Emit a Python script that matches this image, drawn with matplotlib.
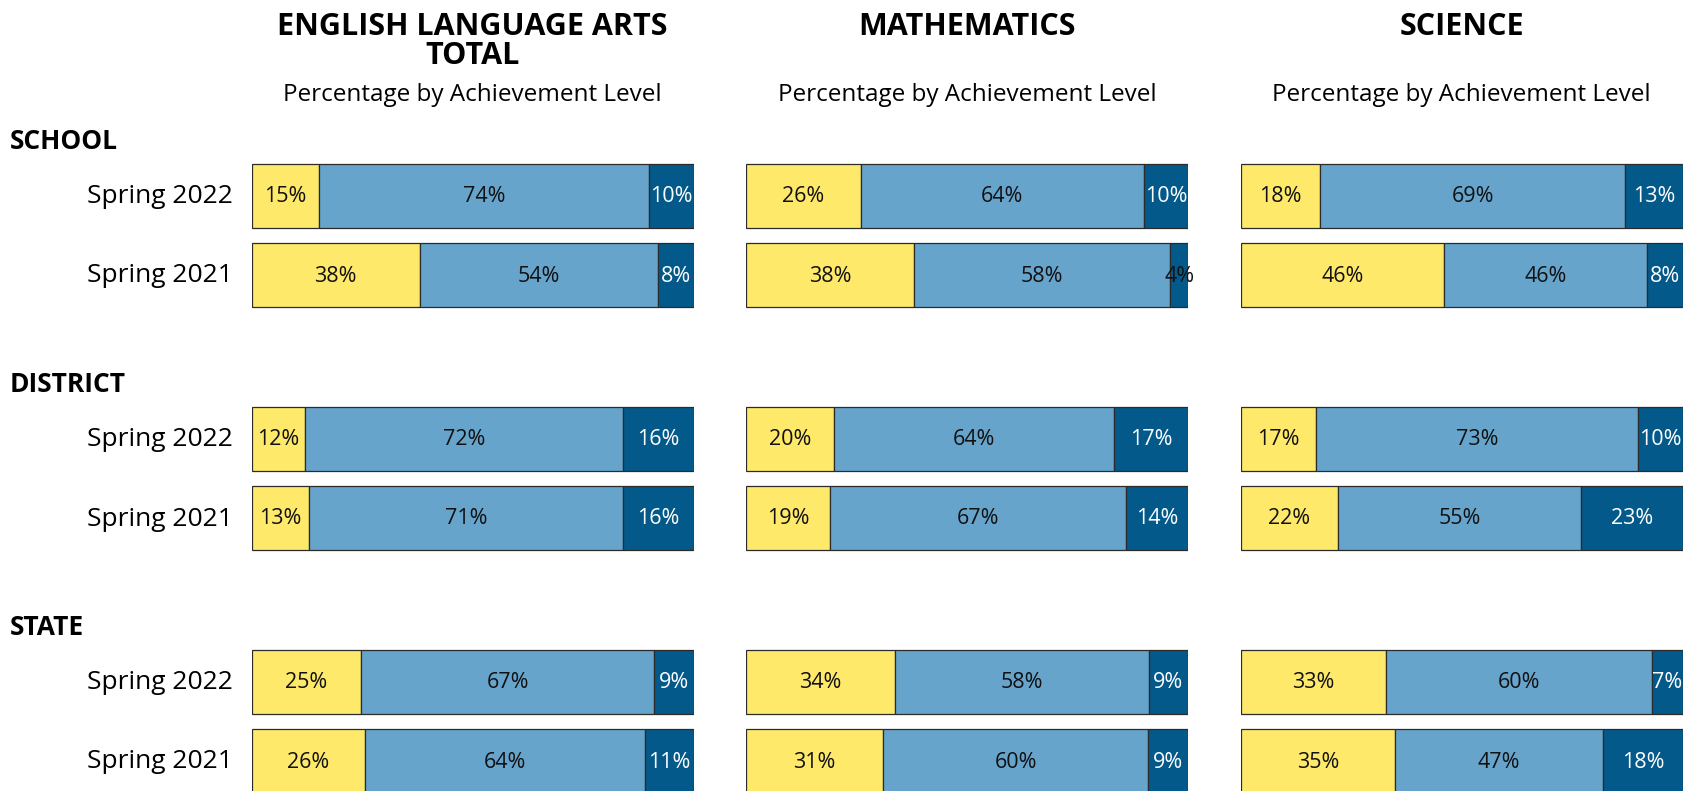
import matplotlib
matplotlib.use("Agg")
import matplotlib.pyplot as plt
import numpy as np

plt.rcParams['font.family'] = ['Open Sans', 'DejaVu Sans']

subjects = ["ENGLISH LANGUAGE ARTS\nTOTAL", "MATHEMATICS", "SCIENCE"]
subtitle = "Percentage by Achievement Level"
groups = ["SCHOOL", "DISTRICT", "STATE"]
periods = ["Spring 2022", "Spring 2021"]

# values [group][period] -> (low, mid, high) for each subject
ela = [[(15, 74, 10), (38, 54, 8)],
       [(12, 72, 16), (13, 71, 16)],
       [(25, 67, 9), (26, 64, 11)]]
math = [[(26, 64, 10), (38, 58, 4)],
        [(20, 64, 17), (19, 67, 14)],
        [(34, 58, 9), (31, 60, 9)]]
science = [[(18, 69, 13), (46, 46, 8)],
           [(17, 73, 10), (22, 55, 23)],
           [(33, 60, 7), (35, 47, 18)]]
data = [ela, math, science]

colors = ["#FEE96A", "#66A4CC", "#02598A"]
text_colors = ["#111111", "#111111", "white"]

W, H = 1693, 791
fig = plt.figure(figsize=(W / 100, H / 100), dpi=100)

col_left = [251.6, 746.0, 1240.6]
col_width = 442.0
y0 = 195.5
group_step = 243.0
row_step = 79.5
bar_h = 64.0

for c, subj in enumerate(subjects):
    ax = fig.add_axes([col_left[c] / W, 0, col_width / W, 1])
    ax.set_xlim(0, 100)
    ax.set_ylim(H, 0)
    ax.axis('off')
    for g in range(len(groups)):
        for r in range(len(periods)):
            vals = np.array(data[c][g][r], dtype=float)
            widths = vals / vals.sum() * 100
            yc = y0 + g * group_step + r * row_step
            left = 0.0
            for k in range(3):
                ax.barh(yc, widths[k], left=left, height=bar_h, color=colors[k],
                        edgecolor="#2b2b2b", linewidth=0.9)
                tc = text_colors[k]
                if k == 2 and vals[k] < 5:
                    tc = "#111111"
                ax.text(left + widths[k] / 2, yc + 1, f"{int(vals[k])}%", ha='center', va='center',
                        fontsize=15.5, color=tc, clip_on=False)
                left += widths[k]
    cx = (col_left[c] + col_width / 2) / W
    fig.text(cx, 1 - 12 / H, subj, ha='center', va='top', fontsize=22,
             fontweight='bold', linespacing=0.95)
    fig.text(cx, 1 - 95 / H, subtitle, ha='center', va='center', fontsize=17.5)

for g, name in enumerate(groups):
    yc = y0 + g * group_step
    fig.text(10 / W, 1 - (yc - 54) / H, name, ha='left', va='center', fontsize=19,
             fontweight='bold')
    for r, p in enumerate(periods):
        yr = y0 + g * group_step + r * row_step
        fig.text(233 / W, 1 - (yr + 1) / H, p, ha='right', va='center', fontsize=19)

fig.savefig("out.png", dpi=100)
